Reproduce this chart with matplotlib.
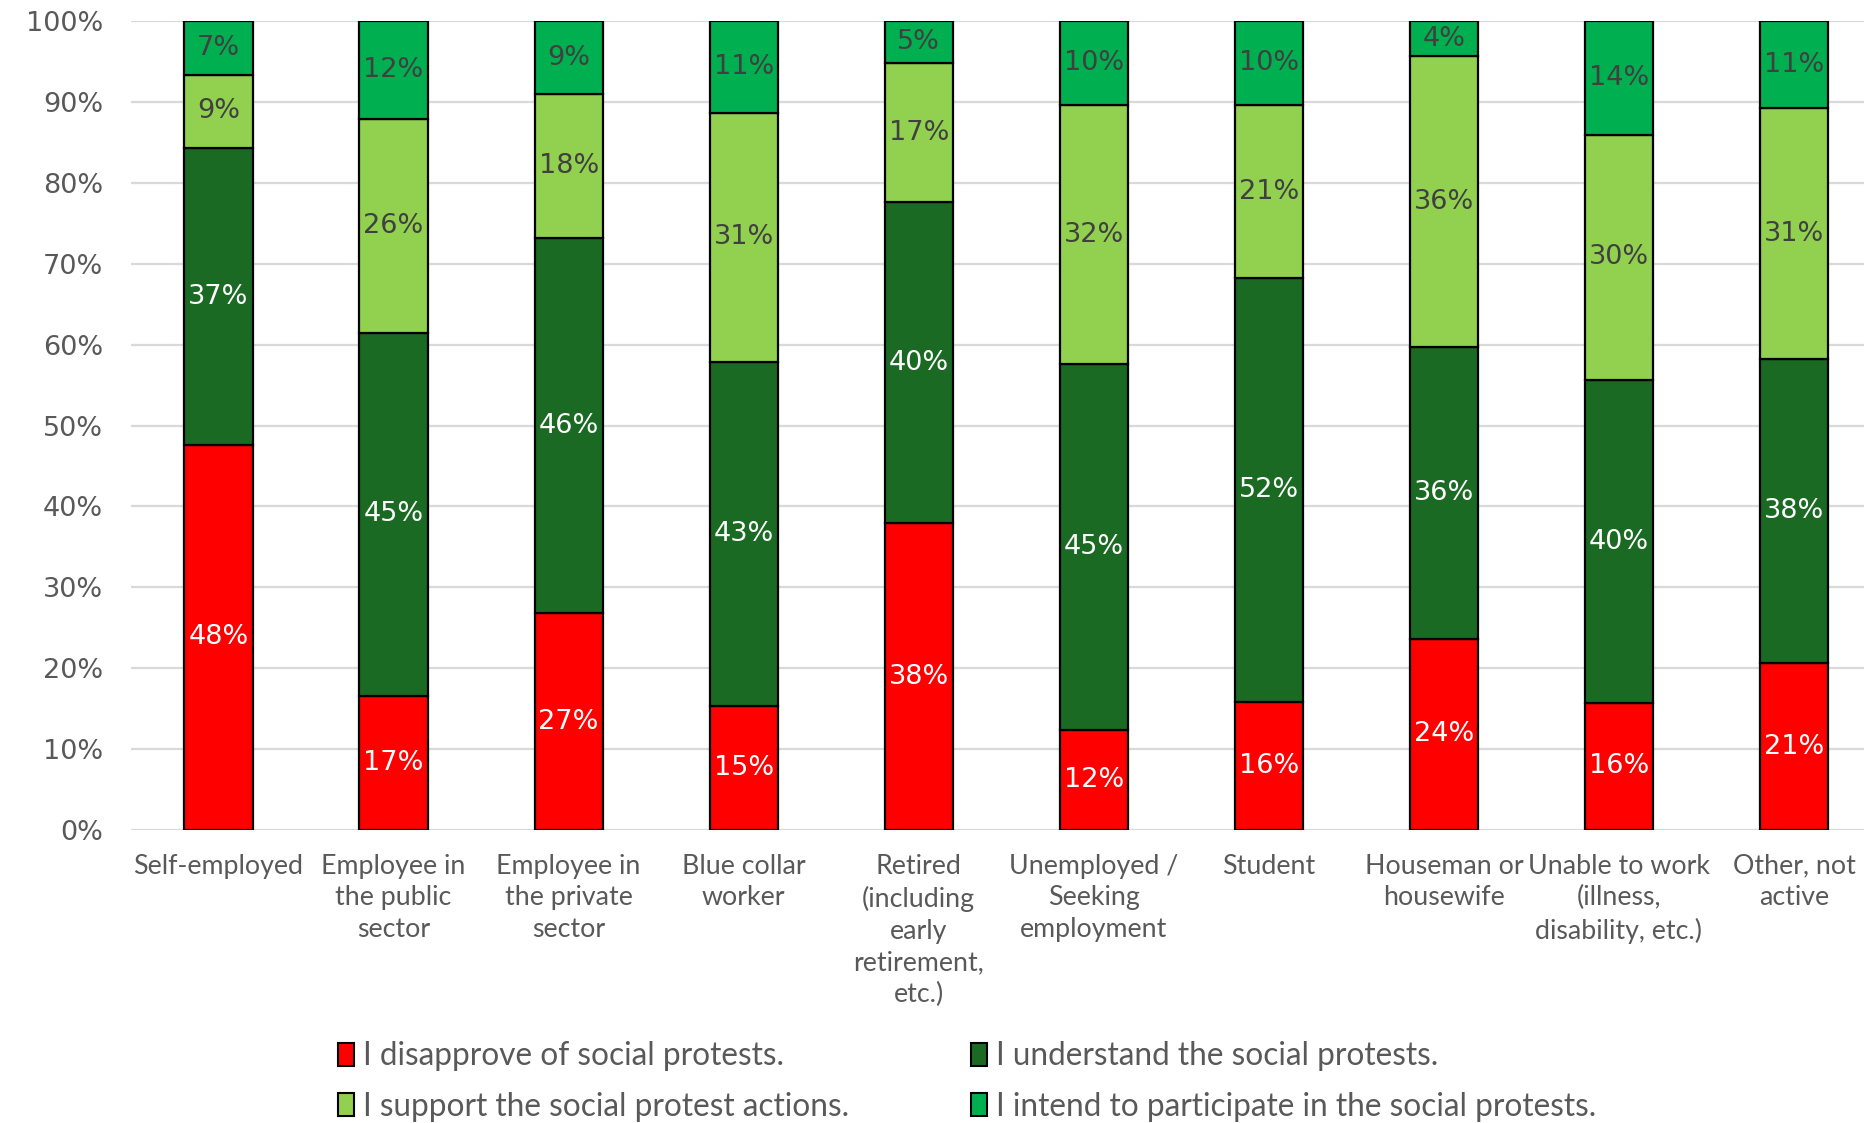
import numpy as np
import matplotlib
matplotlib.use("Agg")
import matplotlib.pyplot as plt
from matplotlib.patches import Patch

plt.rcParams['font.family'] = ['Lato', 'DejaVu Sans']
NUM_FONT = ['DejaVu Sans']

categories = [
    "Self-employed",
    "Employee in\nthe public\nsector",
    "Employee in\nthe private\nsector",
    "Blue collar\nworker",
    "Retired\n(including\nearly\nretirement,\netc.)",
    "Unemployed /\nSeeking\nemployment",
    "Student",
    "Houseman or\nhousewife",
    "Unable to work\n(illness,\ndisability, etc.)",
    "Other, not\nactive",
]

# shares in percent
disapprove = [47.6, 16.6, 26.8, 15.3, 37.9, 12.4, 15.8, 23.6, 15.7, 20.6]
understand = [36.7, 44.9, 46.4, 42.6, 39.7, 45.2, 52.4, 36.1, 39.9, 37.6]
support = [9.1, 26.4, 17.8, 30.8, 17.3, 32.0, 21.4, 36.0, 30.4, 31.1]
participate = [6.6, 12.1, 9.0, 11.3, 5.1, 10.4, 10.4, 4.3, 14.0, 10.7]

series_names = [
    "I disapprove of social protests.",
    "I understand the social protests.",
    "I support the social protest actions.",
    "I intend to participate in the social protests.",
]
series_colors = ["#FF0000", "#1B6A23", "#92D050", "#00B050"]
label_colors = ["white", "white", "#404040", "#404040"]

fig = plt.figure(figsize=(18.64, 11.23), dpi=100)
ax = fig.add_axes([0.0703, 0.261, 0.9297, 0.72])

x = np.arange(len(categories))
bottom = np.zeros(len(categories))
handles = []
for vals, name, col, lcol in zip([disapprove, understand, support, participate],
                                 series_names, series_colors, label_colors):
    vals = np.array(vals)
    ax.bar(x, vals, 0.39, bottom=bottom, color=col, edgecolor="black",
           linewidth=1.6, zorder=3)
    for xi, b, v in zip(x, bottom, vals):
        ax.text(xi, b + v / 2, f"{round(v)}%", ha="center", va="center",
                fontsize=19.5, color=lcol, family=NUM_FONT, zorder=4)
    bottom += vals
    handles.append(Patch(facecolor=col, edgecolor="black", linewidth=1.5, label=name))

ax.set_xlim(-0.5, 9.4)
ax.set_ylim(0, 100)
ax.set_yticks(np.arange(0, 101, 10))
ax.set_yticklabels([f"{t}%" for t in range(0, 101, 10)], family=NUM_FONT,
                   fontsize=19.5)
ax.set_xticks(x)
ax.set_xticklabels(categories, ha="center", va="top", linespacing=1.34,
                   fontsize=19.3)
ax.tick_params(axis="both", length=0, colors="#595959")
ax.tick_params(axis="x", pad=17)
ax.tick_params(axis="y", pad=20)
ax.yaxis.grid(True, color="#D9D9D9", linewidth=1.6, zorder=0)
ax.set_axisbelow(True)
for s in ax.spines.values():
    s.set_visible(False)

order = [0, 2, 1, 3]
fig.legend([handles[i] for i in order], [series_names[i] for i in order],
           ncol=2, loc="upper left", bbox_to_anchor=(0.173, 0.087),
           frameon=False, fontsize=22.7, labelcolor="#595959",
           handlelength=0.5, handleheight=0.75, handletextpad=0.3,
           columnspacing=3.85, labelspacing=0.66, borderpad=0)

fig.savefig("out.png", dpi=100)
